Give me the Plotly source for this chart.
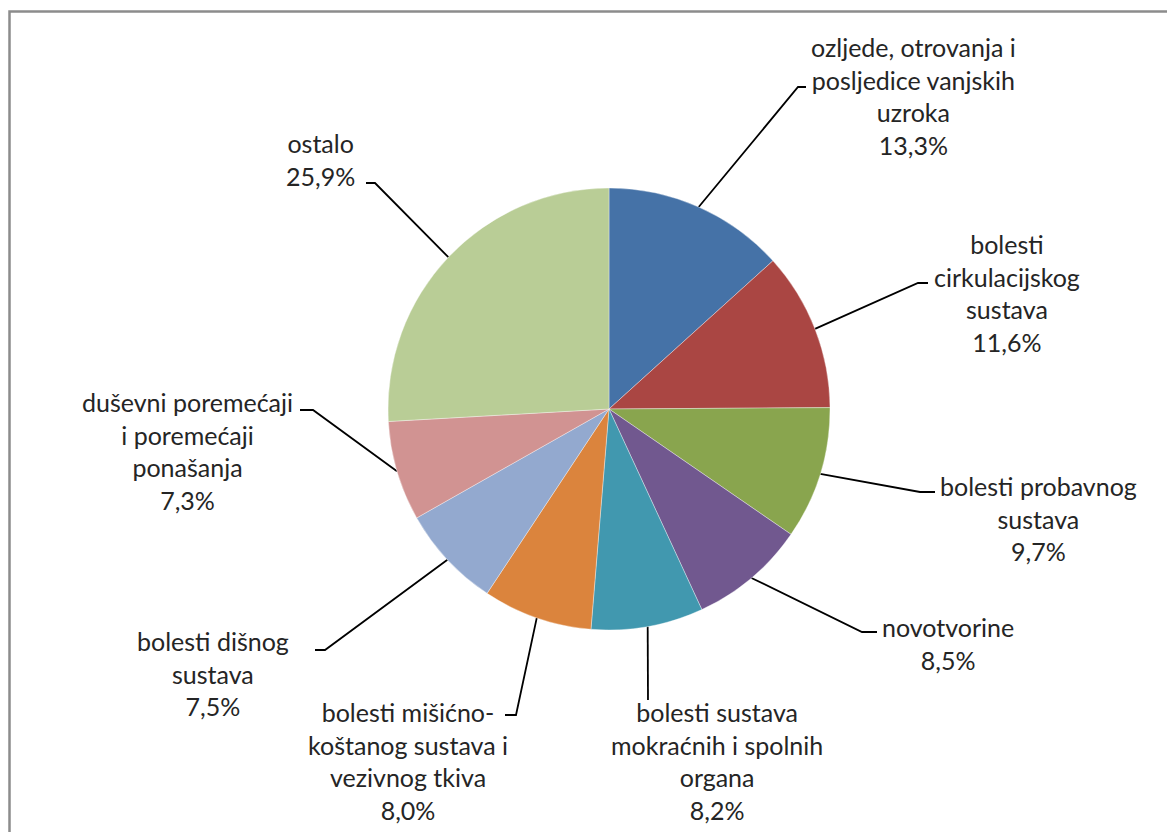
import math
import plotly.graph_objects as go

# Share of causes (percent), clockwise from 12 o'clock
categories = [
    "ozljede, otrovanja i<br>posljedice vanjskih<br>uzroka",
    "bolesti<br>cirkulacijskog<br>sustava",
    "bolesti probavnog<br>sustava",
    "novotvorine",
    "bolesti sustava<br>mokraćnih i spolnih<br>organa",
    "bolesti mišićno-<br>koštanog sustava i<br>vezivnog tkiva",
    "bolesti dišnog<br>sustava",
    "duševni poremećaji<br>i poremećaji<br>ponašanja",
    "ostalo",
]
shares = [13.3, 11.6, 9.7, 8.5, 8.2, 8.0, 7.5, 7.3, 25.9]

colors = ["#4572A7", "#AA4643", "#89A54E", "#71588F", "#4198AF",
          "#DB843D", "#93A9CF", "#D19392", "#B9CD96"]

W, H = 1167, 832
CX, CY, R = 609, 409, 221  # pie centre and radius in pixels

# Label block centres and leader-line elbows (pixels, y downward)
label_pos = [(913, 96), (1007, 293), (1038, 518), (948, 643), (717, 761),
             (408, 761), (213, 673), (187, 451), (320, 159)]
elbows = [[(798, 87), (806, 87)], [(918, 283), (928, 283)],
          [(920, 492), (935, 492)], [(862, 632), (877, 632)],
          [(648, 700)], [(516, 715), (505, 715)],
          [(325, 650), (315, 650)], [(313, 410), (300, 410)],
          [(375, 183), (366, 183)]]

fig = go.Figure()

fig.add_trace(go.Pie(
    labels=[c.replace("<br>", " ") for c in categories],
    values=shares,
    sort=False,
    direction="clockwise",
    rotation=0,
    textinfo="none",
    hoverinfo="label+percent",
    marker=dict(colors=colors, line=dict(color="rgba(255,255,255,0.6)", width=0.6)),
    domain=dict(x=[(CX - R) / W, (CX + R) / W], y=[1 - (CY + R) / H, 1 - (CY - R) / H]),
    showlegend=False,
))

total = sum(shares)
cum = 0.0
annotations = []
for i, v in enumerate(shares):
    mid = (cum + v / 2) / total * 2 * math.pi
    cum += v
    sx = CX + R * math.sin(mid)
    sy = CY - R * math.cos(mid)
    pts = [(sx, sy)] + elbows[i]
    fig.add_trace(go.Scatter(
        x=[p[0] for p in pts], y=[p[1] for p in pts],
        mode="lines", line=dict(color="black", width=1.8),
        hoverinfo="skip", showlegend=False,
    ))
    pct = f"{v:.1f}".replace(".", ",") + "%"
    lx, ly = label_pos[i]
    annotations.append(dict(
        x=lx, y=ly, xref="x", yref="y", text=f"{categories[i]}<br>{pct}",
        showarrow=False, xanchor="center", yanchor="middle", align="center",
        font=dict(family="Lato, 'Open Sans', sans-serif", size=25, color="#252525"),
    ))

fig.update_layout(
    width=W, height=H,
    margin=dict(l=0, r=0, t=0, b=0),
    paper_bgcolor="white", plot_bgcolor="white",
    xaxis=dict(range=[0, W], visible=False, fixedrange=True),
    yaxis=dict(range=[H, 0], visible=False, fixedrange=True),
    annotations=annotations,
    shapes=[dict(type="rect", xref="x", yref="y", x0=9.5, y0=11.5, x1=W + 20, y1=H + 20,
                 line=dict(color="#8c8c8c", width=2.5), layer="below")],
)

fig.write_html("out.html")
